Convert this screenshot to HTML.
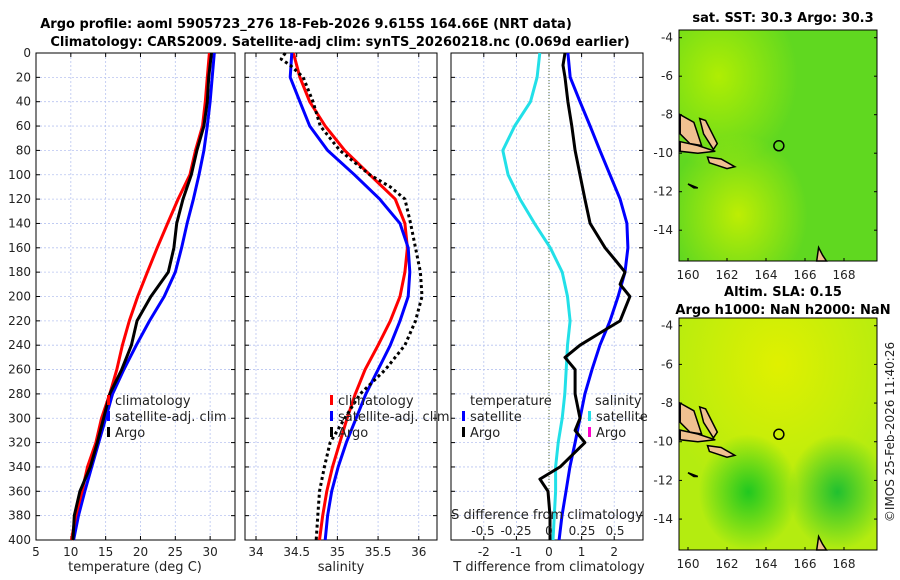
<!DOCTYPE html>
<html><head><meta charset="utf-8"><style>
html,body{margin:0;padding:0;background:#fff;width:900px;height:580px;overflow:hidden}
svg text{font-family:"DejaVu Sans","Liberation Sans",sans-serif;fill:#222}
.t{font-weight:bold;font-size:13px;fill:#000}
.tk{font-size:12px}
</style></head><body>
<svg id="c" width="900" height="580" viewBox="0 0 900 580">
<defs>
<radialGradient id="g1a" cx="0.2" cy="0.2" r="0.4"><stop offset="0" stop-color="#b8f000" stop-opacity="0.9"/><stop offset="1" stop-color="#b8f000" stop-opacity="0"/></radialGradient>
<radialGradient id="g1b" cx="0.3" cy="0.8" r="0.35"><stop offset="0" stop-color="#c8f000" stop-opacity="0.9"/><stop offset="1" stop-color="#c8f000" stop-opacity="0"/></radialGradient>
<radialGradient id="g2a" cx="0.5" cy="0.2" r="0.6"><stop offset="0" stop-color="#e0f000"/><stop offset="1" stop-color="#e0f000" stop-opacity="0"/></radialGradient>
<radialGradient id="g2b" cx="0.35" cy="0.75" r="0.25"><stop offset="0" stop-color="#20c820"/><stop offset="1" stop-color="#20c820" stop-opacity="0"/></radialGradient>
<radialGradient id="g2c" cx="0.8" cy="0.75" r="0.25"><stop offset="0" stop-color="#20c030"/><stop offset="1" stop-color="#20c030" stop-opacity="0"/></radialGradient>
</defs>
<g>
<text class="t" x="306" y="28" text-anchor="middle">Argo profile: aoml 5905723_276 18-Feb-2026 9.615S 164.66E (NRT data)</text>
<text class="t" x="340" y="46" text-anchor="middle">Climatology: CARS2009. Satellite-adj clim: synTS_20260218.nc (0.069d earlier)</text>
</g>
<g id="p1"></g>
<g id="p2"></g>
<g id="p3"></g>
<g id="m1"></g>
<g id="m2"></g>
<text class="t" x="783" y="22" text-anchor="middle">sat. SST: 30.3 Argo: 30.3</text>
<text class="t" x="783" y="296" text-anchor="middle">Altim. SLA: 0.15</text>
<text class="t" x="783" y="314" text-anchor="middle">Argo h1000: NaN h2000: NaN</text>
<text class="tk" transform="translate(894,432) rotate(-90)" text-anchor="middle">©IMOS 25-Feb-2026 11:40:26</text>
</svg>
<script>
const depths=[0,20,40,60,80,100,120,140,160,180,200,220,240,260,280,300,320,340,360,380,400];
const tClim=[29.9,29.6,29.3,28.9,27.9,27.1,25.4,23.9,22.4,21.0,19.6,18.4,17.4,16.6,15.6,14.4,13.6,12.4,11.6,10.7,10.1];
const tSat=[30.6,30.3,30.0,29.6,29.1,28.4,27.6,26.7,25.9,25.0,23.4,21.3,19.4,17.6,16.0,15.0,14.0,13.0,12.0,11.1,10.4];
const tArgo=[30.2,29.8,29.6,29.1,28.1,27.3,26.1,25.2,24.8,24.0,21.5,19.5,18.7,17.3,15.6,14.7,13.8,12.8,11.3,10.5,10.3];
const sClim=[34.46,34.54,34.66,34.85,35.09,35.40,35.71,35.83,35.86,35.83,35.77,35.65,35.50,35.34,35.22,35.12,35.03,34.94,34.87,34.82,34.78];
const sSat=[34.44,34.42,34.54,34.66,34.88,35.21,35.52,35.77,35.87,35.89,35.87,35.77,35.65,35.50,35.35,35.23,35.11,35.01,34.93,34.88,34.85];
const argoDepths=[0,5,10,20,40,60,80,100,110,120,140,160,180,200,220,240,260,280,300,320,340,360,380,400];
const sArgo=[34.36,34.31,34.42,34.58,34.70,34.79,35.03,35.40,35.65,35.83,35.90,35.96,36.02,36.04,35.96,35.83,35.59,35.28,35.09,34.91,34.84,34.78,34.76,34.74];
const dTSat=[0.58,0.65,0.95,1.26,1.56,1.87,2.18,2.39,2.42,2.33,2.12,1.87,1.56,1.32,1.10,0.95,0.80,0.64,0.52,0.40,0.31];
const dSSat=[-0.07,-0.09,-0.14,-0.26,-0.35,-0.31,-0.22,-0.11,0.01,0.10,0.14,0.16,0.14,0.13,0.12,0.10,0.07,0.05,0.05,0.04,0.03];
const dTDepths=[0,10,20,40,60,80,100,120,140,160,170,180,190,200,210,220,230,240,250,260,280,300,310,320,340,350,360,380,400];
const dTArgo=[0.49,0.43,0.49,0.58,0.70,0.80,0.95,1.10,1.26,1.72,2.03,2.33,2.18,2.48,2.33,2.18,1.56,0.95,0.49,0.80,0.80,0.95,0.80,1.10,0.34,-0.28,-0.03,0.03,0.03];
const tTicks=[5,10,15,20,25,30];
const sTicks=[34,34.5,35,35.5,36];
const dTicks=[-2,-1,0,1,2];
const dsTicks=[-0.5,-0.25,0,0.25,0.5];
const yTicks=[0,20,40,60,80,100,120,140,160,180,200,220,240,260,280,300,320,340,360,380,400];
const lonTicks=[160,162,164,166,168];
const latTicks=[-4,-6,-8,-10,-12,-14];
const NS='http://www.w3.org/2000/svg';
function mk(p,tag,a,txt){const e=document.createElementNS(NS,tag);for(const k in a)e.setAttribute(k,a[k]);if(txt!==undefined)e.textContent=txt;p.appendChild(e);return e;}
const Y0=53,Y1=540;
const yOf=d=>Y0+(d/400)*(Y1-Y0);
function panel(g,x0,x1,xmin,xmax,ticks,ylabels){
  const xs=v=>x0+(v-xmin)/(xmax-xmin)*(x1-x0);
  ticks.forEach(t=>{const l=mk(g,'line',{x1:xs(t),x2:xs(t),y1:Y0,y2:Y1,stroke:'#b8c4f0','stroke-dasharray':'2,2','stroke-width':0.8});
    
    
    const tx=mk(g,'text',{x:xs(t),y:Y1+16,'text-anchor':'middle',class:'tk'},String(t));
    
    
    mk(g,'line',{x1:xs(t),x2:xs(t),y1:Y1,y2:Y1-4,stroke:'#000'});mk(g,'line',{x1:xs(t),x2:xs(t),y1:Y0,y2:Y0+4,stroke:'#000'});});
  yTicks.forEach(d=>{const l=mk(g,'line',{x1:x0,x2:x1,y1:yOf(d),y2:yOf(d),stroke:'#b8c4f0','stroke-dasharray':'2,2','stroke-width':0.8});
    
    
    mk(g,'line',{x1:x0,x2:x0+4,y1:yOf(d),y2:yOf(d),stroke:'#000'});mk(g,'line',{x1:x1,x2:x1-4,y1:yOf(d),y2:yOf(d),stroke:'#000'});
    if(ylabels){const tx=mk(g,'text',{x:x0-5,y:yOf(d)+4,'text-anchor':'end',class:'tk'},String(d));
      
      }});
  const r=mk(g,'rect',{x:x0,y:Y0,width:x1-x0,height:Y1-Y0,fill:'none',stroke:'#000'});
  
  
  return xs;
}
function line(g,xs,vals,ds,col,name,dash){
  const pts=vals.map((v,i)=>xs(v).toFixed(1)+','+yOf(ds[i]).toFixed(1)).join(' ');
  const a={points:pts,fill:'none',stroke:col,'stroke-width':3,'stroke-linejoin':'round'};if(dash)a['stroke-dasharray']=dash;
  const e=mk(g,'polyline',a);
  
  
}
function legend(g,x,y,items){items.forEach((it,i)=>{mk(g,'rect',{x:x,y:y+i*16-10,width:3,height:10,fill:it[1]});
  const t=mk(g,'text',{x:x+8,y:y+i*16,class:'tk',style:'font-size:13px'},it[0]);
  
  });}
const g1=document.getElementById('p1');
const x1s=panel(g1,36,235,5,33.57,tTicks,true);
line(g1,x1s,tSat,depths,'#0000ff','temp-satellite-line');
line(g1,x1s,tClim,depths,'#ff0000','temp-climatology-line');
line(g1,x1s,tArgo,depths,'#000','temp-argo-line');
legend(g1,107,405,[['climatology','#ff0000'],['satellite-adj. clim','#0000ff'],['Argo','#000']]);
mk(g1,'text',{x:135,y:571,'text-anchor':'middle',class:'tk',style:'font-size:13px'},'temperature (deg C)');
const g2=document.getElementById('p2');
const x2s=panel(g2,245,437,33.865,36.224,sTicks,false);
line(g2,x2s,sClim,depths,'#ff0000','sal-climatology-line');
line(g2,x2s,sSat,depths,'#0000ff','sal-satellite-line');
line(g2,x2s,sArgo,argoDepths,'#000','sal-argo-line','3,3');
legend(g2,330,405,[['climatology','#ff0000'],['satellite-adj. clim','#0000ff'],['Argo','#000']]);
mk(g2,'text',{x:341,y:571,'text-anchor':'middle',class:'tk',style:'font-size:13px'},'salinity');
const g3=document.getElementById('p3');
const x3s=panel(g3,451,643,-3.006,2.883,dTicks,false);
const xss=v=>549+v*132;
mk(g3,'line',{x1:549,x2:549,y1:Y0,y2:Y1,stroke:'#556b2f','stroke-dasharray':'1,2'});
line(g3,xss,dSSat,depths,'#22e0e8','sal-diff-satellite-line');
line(g3,x3s,dTSat,depths,'#0000ff','temp-diff-satellite-line');
line(g3,x3s,dTArgo,dTDepths,'#000','temp-diff-argo-line');
mk(g3,'text',{x:470,y:405,class:'tk',style:'font-size:13px'},'temperature');
mk(g3,'text',{x:595,y:405,class:'tk',style:'font-size:13px'},'salinity');
legend(g3,462,421,[['satellite','#0000ff'],['Argo','#000']]);
legend(g3,588,421,[['satellite','#22e0e8'],['Argo','#ff00cc']]);
mk(g3,'text',{x:547,y:519,'text-anchor':'middle',class:'tk',style:'font-size:13px'},'S difference from climatology');
dsTicks.forEach(t=>{const e=mk(g3,'text',{x:xss(t),y:535,'text-anchor':'middle',class:'tk'},String(t));
  
  });
mk(g3,'text',{x:549,y:571,'text-anchor':'middle',class:'tk',style:'font-size:13px'},'T difference from climatology');
function map(g,y0,y1,latTop,variant){
  const x0=679,x1=877;
  const lx=lon=>688+(lon-160)*19.5;
  const ly=lat=>y0+((latTop-lat))*((y1-y0)/ (latTop+15.6));
  const base=variant?'#b4ec10':'#60d820';
  mk(g,'rect',{x:x0,y:y0,width:x1-x0,height:y1-y0,fill:base});
  if(variant){mk(g,'rect',{x:x0,y:y0,width:x1-x0,height:y1-y0,fill:'url(#g2a)'});
    mk(g,'rect',{x:x0,y:y0,width:x1-x0,height:y1-y0,fill:'url(#g2b)'});
    mk(g,'rect',{x:x0,y:y0,width:x1-x0,height:y1-y0,fill:'url(#g2c)'});}
  else{mk(g,'rect',{x:x0,y:y0,width:x1-x0,height:y1-y0,fill:'url(#g1a)'});
    mk(g,'rect',{x:x0,y:y0,width:x1-x0,height:y1-y0,fill:'url(#g1b)'});}
  const isl=[[[159.6,-8.0],[160.3,-8.4],[160.7,-9.6],[160.1,-9.5],[159.6,-9.0]],
   [[160.6,-8.2],[160.9,-8.3],[161.5,-9.5],[161.3,-9.8],[160.8,-9.0]],
   [[159.6,-9.4],[160.5,-9.6],[161.4,-9.9],[160.5,-10.0],[159.6,-9.9]],
   [[161.0,-10.2],[161.7,-10.3],[162.4,-10.7],[162.0,-10.8],[161.1,-10.5]],
   [[166.7,-14.9],[166.9,-15.3],[167.1,-15.6],[166.6,-15.6]],
   [[160.0,-11.6],[160.5,-11.8],[160.3,-11.8]]];
  isl.forEach(p=>{const e=mk(g,'polygon',{points:p.map(q=>lx(q[0]).toFixed(1)+','+ly(q[1]).toFixed(1)).join(' '),fill:'#f0c090',stroke:'#000','stroke-width':1.5});
    
    });
  const c=mk(g,'circle',{cx:lx(164.66),cy:ly(-9.615),r:5,fill:'none',stroke:'#000','stroke-width':1.5});
  
  
  mk(g,'rect',{x:x0,y:y0,width:x1-x0,height:y1-y0,fill:'none',stroke:'#000'});
  lonTicks.forEach(t=>{mk(g,'line',{x1:lx(t),x2:lx(t),y1:y1,y2:y1-3,stroke:'#000'});
    const e=mk(g,'text',{x:lx(t),y:y1+18,'text-anchor':'middle',class:'tk'},String(t));
    
    });
  latTicks.forEach(t=>{mk(g,'line',{x1:x0,x2:x0+3,y1:ly(t),y2:ly(t),stroke:'#000'});mk(g,'line',{x1:x1,x2:x1-3,y1:ly(t),y2:ly(t),stroke:'#000'});
    const e=mk(g,'text',{x:x0-6,y:ly(t)+4,'text-anchor':'end',class:'tk'},String(t));
    
    });
}
map(document.getElementById('m1'),30,261,-3.6,false);
map(document.getElementById('m2'),318,550,-3.6,true);
</script>
</body></html>
